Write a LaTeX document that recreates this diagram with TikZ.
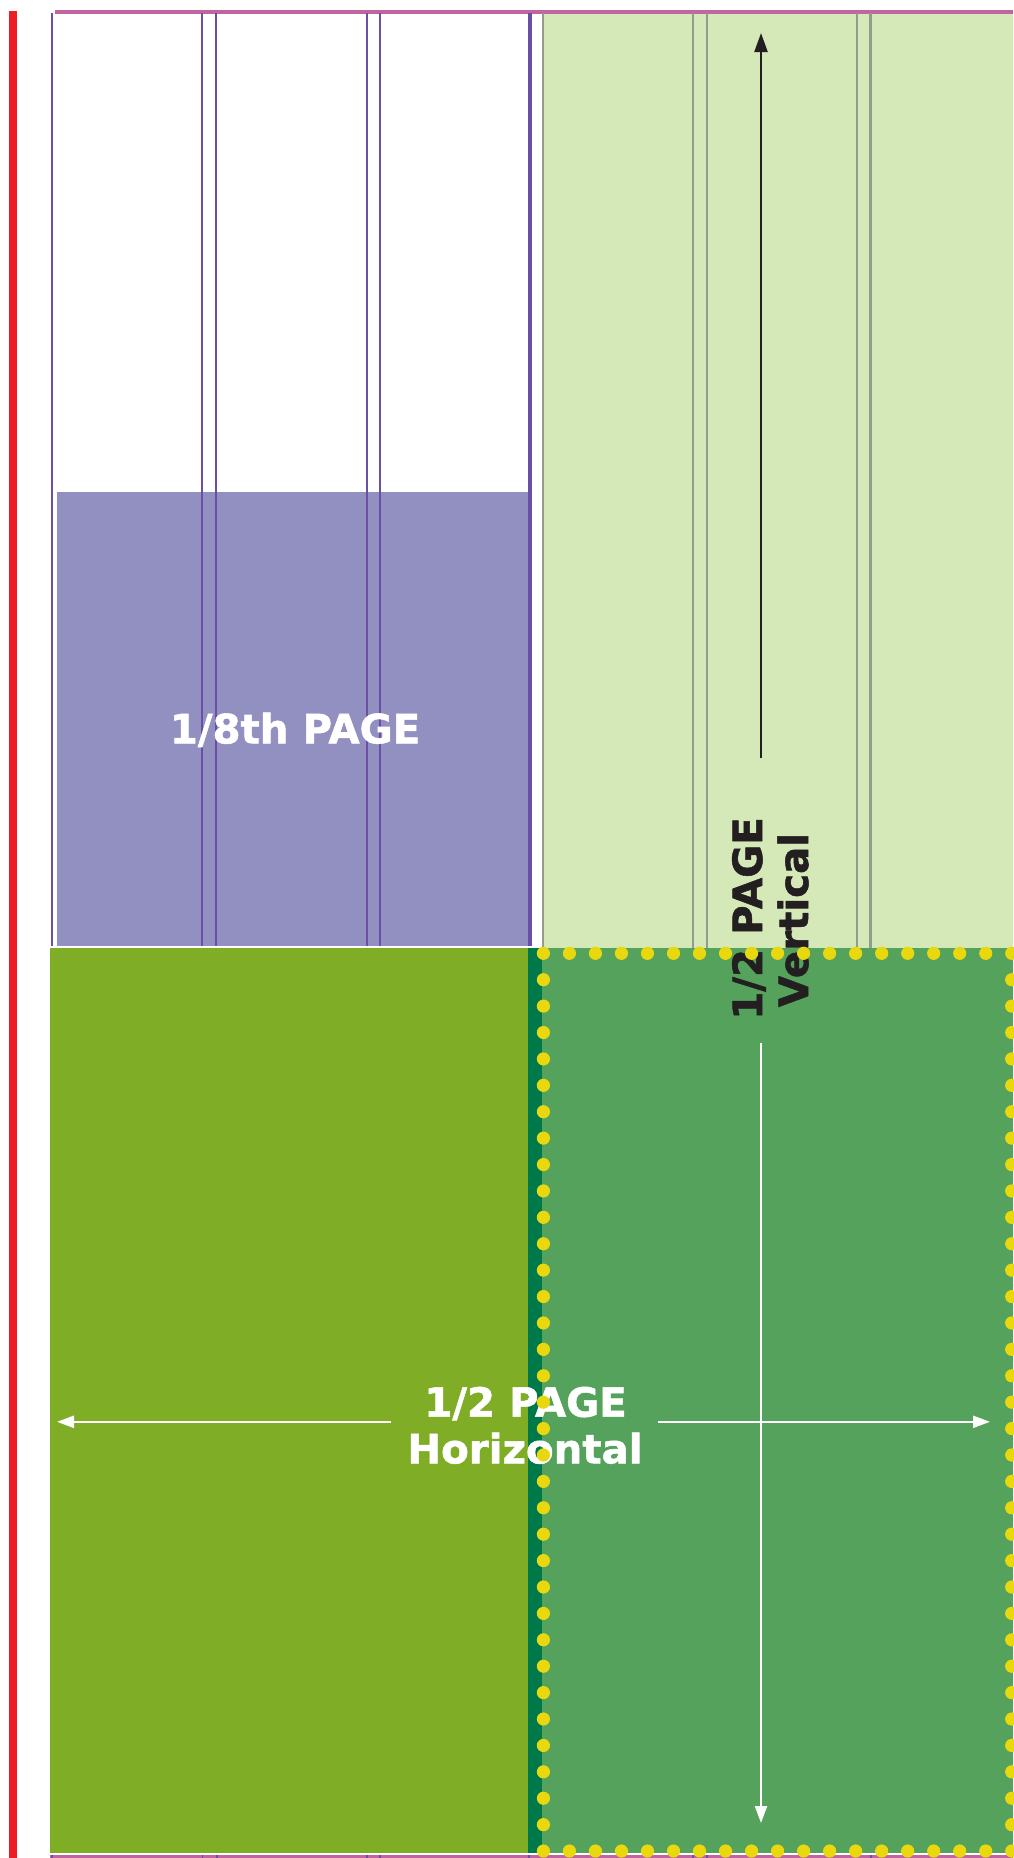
\documentclass[tikz,border=0pt]{standalone}
\usepackage{fontspec}
\setmainfont{DejaVu Sans}[BoldFeatures={FakeBold=1.3}]
\usetikzlibrary{arrows.meta}
\definecolor{cred}{HTML}{EE1D24}
\definecolor{cmag}{HTML}{C264A0}
\definecolor{cpurl}{HTML}{6B4FA5}
\definecolor{cpurf}{HTML}{9290C1}
\definecolor{clgreen}{HTML}{D5E9B8}
\definecolor{cgray}{HTML}{939A8E}
\definecolor{colive}{HTML}{7FAE26}
\definecolor{cdgreen}{HTML}{00794A}
\definecolor{cmgreen}{HTML}{54A25B}
\definecolor{cyel}{HTML}{EAD80E}
\definecolor{ctext}{HTML}{231F20}
\tikzset{
  purline/.style={draw=cpurl, line width=2.3pt},
  grayline/.style={draw=cgray, line width=2.3pt},
  ydot/.style={fill=cyel},
  lbl/.style={font=\fontsize{40.3}{46.5}\bfseries, inner sep=0pt, anchor=base},
  whitearrow/.style={draw=white, line width=2.3pt, -{Triangle[length=17pt,width=12pt]}},
  blackarrow/.style={draw=ctext, line width=2.3pt, -{Triangle[length=19pt,width=13pt]}}
}
\begin{document}
\begin{tikzpicture}[x=1pt,y=-1pt]
\useasboundingbox[fill=white] (0,0) rectangle (1013,1858);
% upper right light green
\fill[clgreen] (542,12) rectangle (1013,947.7);
% purple fill
\fill[cpurf] (56.7,491.7) rectangle (528.3,945.7);
% lower half
\fill[colive] (50,947.7) rectangle (528.3,1853.3);
\fill[cdgreen] (528.3,947.7) rectangle (542,1853.3);
\fill[cmgreen] (542,947.7) rectangle (1013,1853.3);
% red margin
\draw[cred, line width=8pt] (12.5,11) -- (12.5,1858);
% magenta lines
\draw[cmag, line width=3.5pt] (55,12) -- (1013,12);
\draw[cmag, line width=3.2pt] (50,1856.5) -- (1013,1856.5);
% purple column lines
\foreach \xx in {52.2,202.3,216.3,366.7,380}
  \draw[purline] (\xx,13) -- (\xx,945.7);
\draw[cpurl, line width=3.5pt] (530,13) -- (530,945.7);
% gray column lines
\foreach \xx in {543,693,707,857,870.5}
  \draw[grayline] (\xx,13) -- (\xx,947.7);
% bottom ticks
\foreach \xx in {52.2,202.3,216.7,366.7,380,529,693,707,870.7}
  \draw[cpurl, line width=1.6pt] (\xx,1854.8) -- (\xx,1858);
% labels
\node[lbl, text=white] (eighth) at (295,743.3) {1/8th PAGE};
\node[lbl, text=white] (h1) at (525.5,1416.7) {1/2 PAGE};
\node[lbl, text=white] (h2) at (525,1463.3) {Horizontal};
\node[lbl, text=ctext, rotate=90] (v1) at (762,918.5) {1/2 PAGE};
\node[lbl, text=ctext, rotate=90] (v2) at (808,920) {Vertical};
% arrows
\coordinate (btail) at (761,758);
\coordinate (btip) at (761,33);
\draw[blackarrow] (btail) -- (btip);
\coordinate (ltail) at (391,1421.8);
\coordinate (ltip) at (57,1421.8);
\coordinate (rtail) at (658,1421.8);
\coordinate (rtip) at (990,1421.8);
\coordinate (vtail) at (761,1043);
\coordinate (vtip) at (761,1823);
\draw[whitearrow] (ltail) -- (ltip);
\draw[whitearrow] (rtail) -- (rtip);
\draw[whitearrow] (vtail) -- (vtip);
% yellow dotted border
\foreach \i in {0,...,18} {
  \fill[ydot] ({543.4+\i*26.02},953.3) circle (6.6);
  \fill[ydot] ({543.4+\i*26.02},1851) circle (6.6);
}
\foreach \i in {1,...,33} {
  \fill[ydot] (543.4,{953.3+\i*26.404}) circle (6.6);
  \fill[ydot] (1011.7,{953.3+\i*26.404}) circle (6.6);
}
\end{tikzpicture}
\end{document}
